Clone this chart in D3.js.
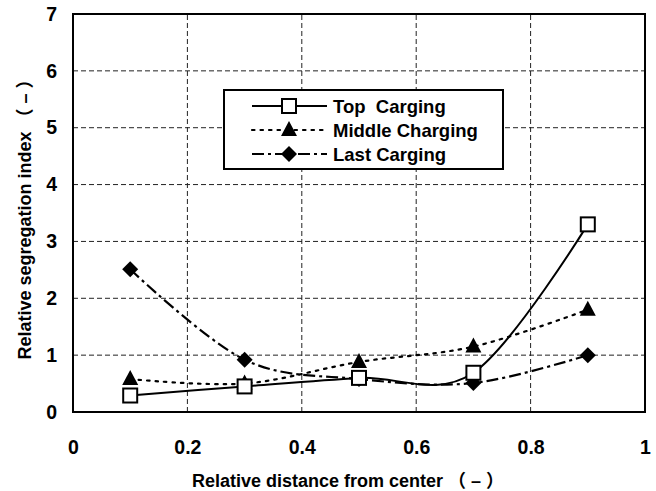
<!DOCTYPE html>
<html><head><meta charset="utf-8">
<script src="https://cdn.jsdelivr.net/npm/d3@7"></script>
<style>body{margin:0;background:#fff}svg{display:block}</style>
</head><body>
<script>
const xValues = [0.1, 0.3, 0.5, 0.7, 0.9];
const topCharging = [0.29, 0.45, 0.6, 0.69, 3.3];
const middleCharging = [0.58, 0.5, 0.88, 1.15, 1.8];
const lastCharging = [2.51, 0.92, 0.58, 0.51, 1.0];
const seriesNames = ["Top  Carging", "Middle Charging", "Last Carging"];
const xTicks = [0, 0.2, 0.4, 0.6, 0.8, 1];
const yTicks = [0, 1, 2, 3, 4, 5, 6, 7];

const W = 656, H = 491;
const m = {l: 73, r: 11, t: 14, b: 79};
const svg = d3.select("body").append("svg").attr("width", W).attr("height", H);
const x = d3.scaleLinear().domain([0, 1]).range([m.l, W - m.r]);
const y = d3.scaleLinear().domain([0, 7]).range([H - m.b, m.t]);
const font = "'Liberation Sans', Arial, 'Noto Sans CJK JP', sans-serif";

// grid
svg.append("g").selectAll("line").data(yTicks.slice(1, -1)).join("line")
  .attr("x1", x(0)).attr("x2", x(1)).attr("y1", d => y(d)).attr("y2", d => y(d))
  .attr("stroke", "#222").attr("stroke-width", 1).attr("stroke-dasharray", "5,3");
svg.append("g").selectAll("line").data(xTicks.slice(1, -1)).join("line")
  .attr("y1", y(0)).attr("y2", y(7)).attr("x1", d => x(d)).attr("x2", d => x(d))
  .attr("stroke", "#222").attr("stroke-width", 1).attr("stroke-dasharray", "5,3");

// axes frame
svg.append("rect").attr("x", x(0)).attr("y", y(7)).attr("width", x(1) - x(0)).attr("height", y(0) - y(7))
  .attr("fill", "none").attr("stroke", "#000").attr("stroke-width", 2);

// tick labels
const yAxis = d3.axisLeft(y).tickValues(yTicks).tickSize(0).tickPadding(16).tickFormat(d3.format("d"));
const gy = svg.append("g").attr("transform", `translate(${x(0)},0)`).call(yAxis);
gy.select(".domain").remove();
gy.selectAll("text").attr("font-family", font).attr("font-weight", "bold").attr("font-size", 19.5).attr("fill", "#000");
const xAxis = d3.axisBottom(x).tickValues(xTicks).tickSize(0).tickPadding(28).tickFormat(d => d === 0 || d === 1 ? d3.format("d")(d) : d3.format(".1f")(d));
const gx = svg.append("g").attr("transform", `translate(0,${y(0)})`).call(xAxis);
gx.select(".domain").remove();
gx.selectAll("text").attr("font-family", font).attr("font-weight", "bold").attr("font-size", 19.5).attr("fill", "#000");

// axis titles
svg.append("text").attr("x", 192).attr("y", 487).attr("text-anchor", "start")
  .attr("font-family", font).attr("font-weight", "bold").attr("font-size", 18)
  .text("Relative distance from center \uFF08 \u2013 \uFF09").style("white-space", "pre");
svg.append("text").attr("transform", `translate(31,${(y(0) + y(7)) / 2 + 2}) rotate(-90)`).attr("text-anchor", "middle")
  .attr("font-family", font).attr("font-weight", "bold").attr("font-size", 18)
  .text("Relative segregation index \uFF08 \u2013 \uFF09").style("white-space", "pre");

const series = [
  {name: seriesNames[0], vals: topCharging, dash: null, marker: "square"},
  {name: seriesNames[1], vals: middleCharging, dash: "2.5,6", marker: "triangle"},
  {name: seriesNames[2], vals: lastCharging, dash: "12,4,3,4", marker: "diamond"}
];
const line = d3.line().x(d => x(d[0])).y(d => y(d[1])).curve(d3.curveCardinal.tension(0));
function drawMarker(g, type, cx, cy) {
  if (type === "square") {
    g.append("rect").attr("x", cx - 7).attr("y", cy - 7).attr("width", 14).attr("height", 14)
      .attr("fill", "#fff").attr("stroke", "#000").attr("stroke-width", 2);
  } else if (type === "triangle") {
    g.append("path").attr("d", `M${cx},${cy - 9}L${cx + 8},${cy + 6}L${cx - 8},${cy + 6}Z`).attr("fill", "#000");
  } else {
    g.append("path").attr("d", `M${cx},${cy - 8}L${cx + 8},${cy}L${cx},${cy + 8}L${cx - 8},${cy}Z`).attr("fill", "#000");
  }
}
[2, 1, 0].forEach(i => {
  const s = series[i];
  const pts = xValues.map((xv, j) => [xv, s.vals[j]]);
  svg.append("path").attr("d", line(pts)).attr("fill", "none").attr("stroke", "#000")
    .attr("stroke-width", i === 0 ? 2 : 2.2).attr("stroke-dasharray", s.dash)
    .attr("stroke-linecap", i === 1 ? "round" : "butt");
});
[2, 1, 0].forEach(i => {
  const s = series[i];
  const g = svg.append("g");
  xValues.forEach((xv, j) => drawMarker(g, s.marker, x(xv), y(s.vals[j])));
});

// legend
const lg = svg.append("g");
lg.append("rect").attr("x", 224).attr("y", 90).attr("width", 279).attr("height", 79)
  .attr("fill", "#fff").attr("stroke", "#000").attr("stroke-width", 2);
series.forEach((s, i) => {
  const ly = 106 + i * 24;
  lg.append("line").attr("x1", 252).attr("x2", 327).attr("y1", ly).attr("y2", ly)
    .attr("stroke", "#000").attr("stroke-width", 2.2).attr("stroke-dasharray", s.dash)
    .attr("stroke-linecap", i === 1 ? "round" : "butt");
  drawMarker(lg, s.marker, 289, ly);
  lg.append("text").attr("x", 333).attr("y", ly + 7).attr("font-family", font).attr("font-weight", "bold")
    .attr("font-size", 18.5).text(s.name).style("white-space", "pre");
});
</script>
</body></html>
